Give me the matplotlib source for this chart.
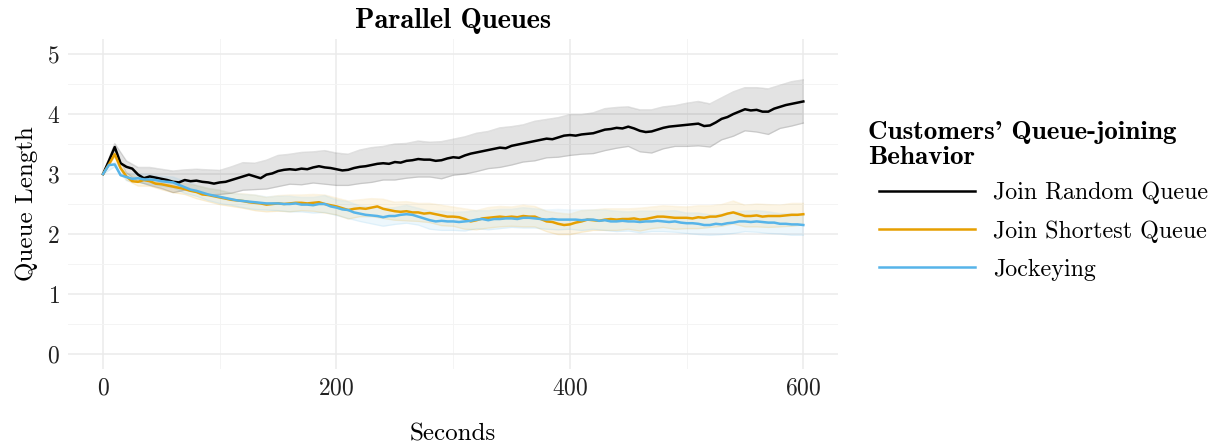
import numpy as np
import matplotlib
matplotlib.use("Agg")
import matplotlib.pyplot as plt

# mean queue length, sampled every 5 s
seconds = np.arange(0, 601, 5)
random_queue = [
    3.00, 3.22, 3.45, 3.18, 3.12, 3.09, 2.99, 2.93, 2.96, 2.94,
    2.92, 2.90, 2.87, 2.86, 2.90, 2.88, 2.89, 2.87, 2.86, 2.84,
    2.86, 2.87, 2.90, 2.93, 2.96, 2.99, 2.96, 2.93, 2.99, 3.01,
    3.05, 3.07, 3.08, 3.07, 3.09, 3.08, 3.11, 3.13, 3.11, 3.10,
    3.08, 3.06, 3.07, 3.10, 3.12, 3.13, 3.15, 3.17, 3.18, 3.17,
    3.20, 3.19, 3.22, 3.23, 3.25, 3.24, 3.24, 3.22, 3.23, 3.26,
    3.28, 3.27, 3.31, 3.34, 3.36, 3.38, 3.40, 3.42, 3.44, 3.43,
    3.47, 3.49, 3.51, 3.53, 3.55, 3.57, 3.59, 3.58, 3.61, 3.64,
    3.65, 3.64, 3.66, 3.67, 3.68, 3.71, 3.74, 3.75, 3.77, 3.76,
    3.79, 3.76, 3.72, 3.70, 3.71, 3.74, 3.77, 3.79, 3.80, 3.81,
    3.82, 3.83, 3.84, 3.80, 3.81, 3.86, 3.92, 3.95, 4.00, 4.04,
    4.08, 4.06, 4.07, 4.04, 4.04, 4.09, 4.12, 4.15, 4.17, 4.19,
    4.21,
]
shortest_queue = [
    3.00, 3.16, 3.33, 3.10, 2.96, 2.88, 2.87, 2.90, 2.88, 2.84,
    2.83, 2.81, 2.79, 2.77, 2.75, 2.72, 2.70, 2.66, 2.65, 2.63,
    2.61, 2.59, 2.57, 2.56, 2.55, 2.53, 2.52, 2.51, 2.49, 2.50,
    2.51, 2.50, 2.51, 2.52, 2.52, 2.51, 2.52, 2.53, 2.50, 2.48,
    2.46, 2.43, 2.40, 2.42, 2.43, 2.42, 2.44, 2.46, 2.42, 2.40,
    2.38, 2.37, 2.38, 2.36, 2.36, 2.34, 2.35, 2.33, 2.31, 2.29,
    2.29, 2.28, 2.25, 2.21, 2.23, 2.26, 2.27, 2.28, 2.29, 2.28,
    2.29, 2.28, 2.30, 2.29, 2.29, 2.25, 2.21, 2.20, 2.17, 2.15,
    2.16, 2.19, 2.21, 2.24, 2.23, 2.22, 2.24, 2.25, 2.24, 2.25,
    2.25, 2.26, 2.24, 2.25, 2.27, 2.29, 2.29, 2.28, 2.27, 2.27,
    2.27, 2.26, 2.28, 2.27, 2.29, 2.29, 2.31, 2.34, 2.36, 2.33,
    2.30, 2.30, 2.31, 2.29, 2.30, 2.30, 2.30, 2.31, 2.32, 2.32,
    2.33,
]
jockeying = [
    3.00, 3.15, 3.16, 2.98, 2.95, 2.92, 2.93, 2.91, 2.91, 2.90,
    2.88, 2.87, 2.86, 2.82, 2.78, 2.74, 2.72, 2.69, 2.66, 2.64,
    2.62, 2.60, 2.58, 2.56, 2.55, 2.54, 2.53, 2.52, 2.51, 2.51,
    2.51, 2.50, 2.50, 2.51, 2.49, 2.49, 2.48, 2.50, 2.50, 2.46,
    2.44, 2.41, 2.40, 2.36, 2.34, 2.32, 2.31, 2.30, 2.28, 2.30,
    2.30, 2.32, 2.33, 2.32, 2.29, 2.26, 2.23, 2.21, 2.22, 2.21,
    2.21, 2.20, 2.21, 2.22, 2.24, 2.25, 2.23, 2.25, 2.25, 2.26,
    2.26, 2.25, 2.27, 2.27, 2.26, 2.25, 2.24, 2.25, 2.24, 2.24,
    2.24, 2.24, 2.23, 2.24, 2.24, 2.22, 2.23, 2.21, 2.21, 2.22,
    2.21, 2.21, 2.20, 2.21, 2.21, 2.22, 2.21, 2.20, 2.21, 2.19,
    2.18, 2.18, 2.17, 2.15, 2.15, 2.17, 2.16, 2.18, 2.19, 2.21,
    2.21, 2.20, 2.21, 2.20, 2.19, 2.19, 2.17, 2.17, 2.16, 2.16,
    2.15,
]

# half width of the confidence band, sampled every 10 s
band_seconds = np.arange(0, 601, 10)
random_ci = [
    0.00, 0.06, 0.10, 0.12, 0.15, 0.16, 0.18, 0.17, 0.19, 0.21,
    0.20, 0.22, 0.23, 0.22, 0.24, 0.26, 0.25, 0.27, 0.26, 0.28,
    0.27, 0.26, 0.28, 0.29, 0.28, 0.30, 0.29, 0.30, 0.29, 0.31,
    0.30, 0.31, 0.32, 0.31, 0.33, 0.32, 0.31, 0.33, 0.32, 0.33,
    0.34, 0.33, 0.34, 0.35, 0.34, 0.33, 0.35, 0.36, 0.35, 0.34,
    0.36, 0.37, 0.36, 0.35, 0.37, 0.36, 0.37, 0.38, 0.36, 0.37,
    0.36,
]
shortest_ci = [
    0.00, 0.05, 0.06, 0.07, 0.08, 0.09, 0.10, 0.09, 0.11, 0.11,
    0.12, 0.11, 0.12, 0.13, 0.12, 0.13, 0.14, 0.13, 0.14, 0.15,
    0.14, 0.15, 0.14, 0.15, 0.16, 0.15, 0.16, 0.15, 0.16, 0.17,
    0.16, 0.17, 0.16, 0.17, 0.17, 0.16, 0.18, 0.17, 0.17, 0.18,
    0.17, 0.18, 0.17, 0.18, 0.18, 0.17, 0.19, 0.18, 0.18, 0.19,
    0.18, 0.19, 0.18, 0.18, 0.19, 0.18, 0.19, 0.19, 0.18, 0.19,
    0.18,
]
jockeying_ci = [
    0.00, 0.04, 0.06, 0.07, 0.08, 0.08, 0.09, 0.10, 0.09, 0.10,
    0.11, 0.10, 0.11, 0.12, 0.11, 0.12, 0.13, 0.12, 0.13, 0.14,
    0.13, 0.14, 0.13, 0.14, 0.15, 0.14, 0.15, 0.14, 0.15, 0.16,
    0.15, 0.16, 0.15, 0.16, 0.16, 0.15, 0.17, 0.16, 0.16, 0.17,
    0.16, 0.17, 0.16, 0.17, 0.17, 0.16, 0.18, 0.17, 0.17, 0.18,
    0.17, 0.18, 0.17, 0.17, 0.18, 0.17, 0.18, 0.18, 0.17, 0.18,
    0.17,
]

labels = ["Join Random Queue", "Join Shortest Queue", "Jockeying"]
colors = ["#000000", "#E69F00", "#56B4E9"]
band_alpha = [0.11, 0.10, 0.10]

plt.rcParams["font.family"] = "cmr10"
plt.rcParams["axes.formatter.use_mathtext"] = True
plt.rcParams["mathtext.fontset"] = "cm"

fig = plt.figure(figsize=(12.15, 4.44), dpi=100)
ax = fig.add_axes([0.056, 0.169, 0.634, 0.743])

series = [random_queue, shortest_queue, jockeying]
cis = [random_ci, shortest_ci, jockeying_ci]

# ribbons first, then the mean lines on top
for mean, ci, c, a in zip(series, cis, colors, band_alpha):
    m = np.asarray(mean)[::2]
    hw = np.asarray(ci)
    ax.fill_between(band_seconds, m - hw, m + hw, color=c, alpha=a, lw=0)
    ax.plot(band_seconds, m - hw, color=c, alpha=a * 1.1, lw=1.0)
    ax.plot(band_seconds, m + hw, color=c, alpha=a * 1.1, lw=1.0)

for mean, c, lab in zip(series, colors, labels):
    ax.plot(seconds, mean, color=c, lw=1.8, label=lab)

ax.set_xlim(-30, 630)
ax.set_ylim(-0.25, 5.25)
ax.set_xticks([0, 200, 400, 600])
ax.set_xticks([100, 300, 500], minor=True)
ax.set_yticks([0, 1, 2, 3, 4, 5])
ax.set_yticks([0.5, 1.5, 2.5, 3.5, 4.5], minor=True)
ax.grid(True, which="major", color="#ebebeb", lw=1.1)
ax.grid(True, which="minor", color="#f4f4f4", lw=0.7)
ax.set_axisbelow(True)
for s in ax.spines.values():
    s.set_visible(False)
ax.tick_params(which="both", length=0, labelsize=17, colors="#222222", pad=6)

ax.set_xlabel("Seconds", fontsize=18, labelpad=17)
ax.set_ylabel("Queue Length", fontsize=18, labelpad=6)
ax.set_title("Parallel Queues", fontsize=20.5, fontfamily="cmb10", pad=8)

# legend title set apart so the keys sit indented under it
fig.text(0.7144, 0.727, "Customers' Queue-joining\nBehavior", fontsize=19.5,
         fontfamily="cmb10", ha="left", va="top", linespacing=1.1)
leg = ax.legend(
    loc="upper left", bbox_to_anchor=(0.7116, 0.623), bbox_transform=fig.transFigure,
    frameon=False, fontsize=17.3, handlelength=4.0, handletextpad=0.75,
    labelspacing=0.66, borderpad=0.1,
)

fig.savefig("out.png", dpi=100, facecolor="white")
